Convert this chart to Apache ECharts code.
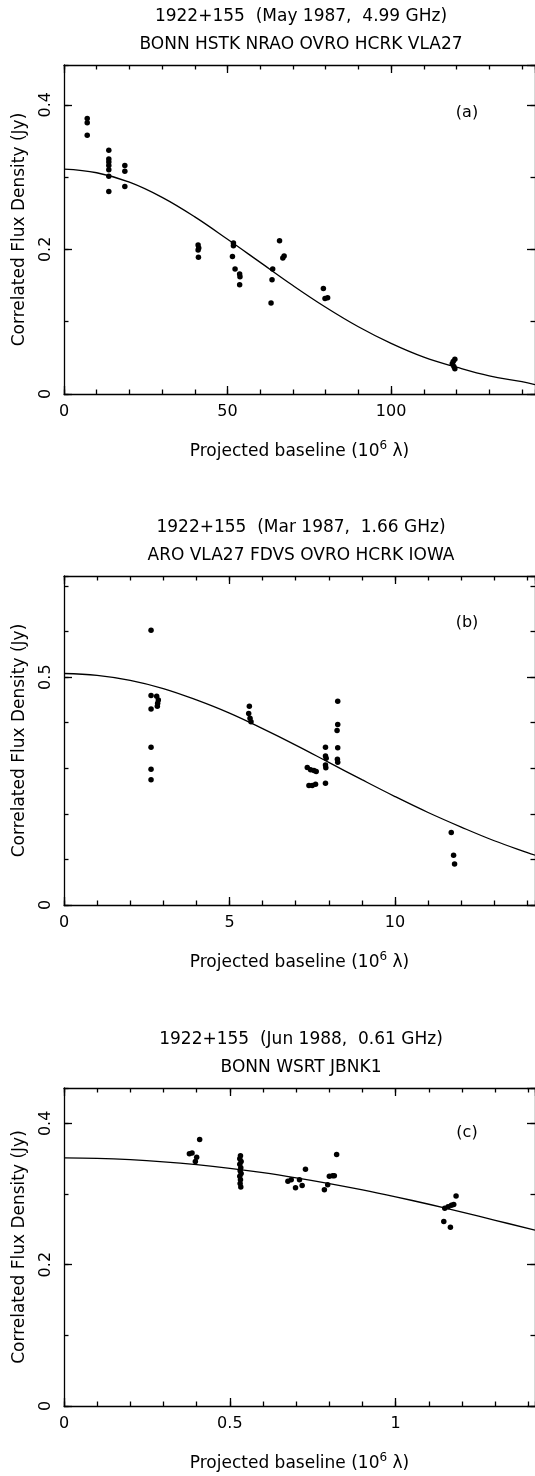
<!DOCTYPE html>
<html>
<head>
<meta charset="utf-8">
<script src="https://cdn.jsdelivr.net/npm/echarts@6/dist/echarts.min.js"></script>
<style>
html,body{margin:0;padding:0;background:#fff;}
#chart{width:535px;height:1476px;}
</style>
</head>
<body>
<div id="chart"></div>
<script>
// ---------------- DATA ----------------
// Panel (a): 1922+155, May 1987, 4.99 GHz
const titleA = '1922+155  (May 1987,  4.99 GHz)';
const stationsA = 'BONN HSTK NRAO OVRO HCRK VLA27';
const aPointX = [7.1, 7.1, 7.1,
  13.7, 13.7, 13.7, 13.7, 13.7, 13.7, 13.7,
  18.6, 18.6, 18.6,
  41.0, 41.2, 41.0, 41.1,
  51.8, 51.8, 51.5, 52.3, 53.7, 53.8, 53.7,
  63.8, 63.6, 63.3,
  65.9, 67.3, 66.9,
  79.3, 79.8, 80.6,
  119.5, 119.0, 118.7, 119.2, 119.5];
const aPointY = [0.381, 0.375, 0.358,
  0.337, 0.325, 0.321, 0.316, 0.310, 0.301, 0.280,
  0.316, 0.308, 0.287,
  0.206, 0.202, 0.199, 0.189,
  0.209, 0.205, 0.190, 0.173, 0.166, 0.162, 0.151,
  0.173, 0.158, 0.126,
  0.212, 0.191, 0.188,
  0.146, 0.132, 0.133,
  0.048, 0.045, 0.042, 0.038, 0.035];
const aFitX = [0, 10, 20, 30, 40, 50, 60, 70, 80, 90, 100, 110, 120, 130, 140, 144];
const aFitY = [0.311, 0.306, 0.293, 0.272, 0.245, 0.214, 0.182, 0.150, 0.120, 0.093, 0.070, 0.051, 0.037, 0.025, 0.017, 0.013];

// Panel (b): 1922+155, Mar 1987, 1.66 GHz
const titleB = '1922+155  (Mar 1987,  1.66 GHz)';
const stationsB = 'ARO VLA27 FDVS OVRO HCRK IOWA';
const bPointX = [2.63, 2.63, 2.63, 2.63, 2.63, 2.63,
  2.80, 2.85, 2.83, 2.82,
  5.60, 5.58, 5.62, 5.65,
  7.35, 7.45, 7.55, 7.62, 7.40, 7.50, 7.60,
  7.90, 7.90, 7.92, 7.90, 7.91, 7.90,
  8.27, 8.27, 8.25, 8.27, 8.26, 8.27,
  11.70, 11.77, 11.80];
const bPointY = [0.603, 0.460, 0.430, 0.346, 0.298, 0.275,
  0.458, 0.450, 0.443, 0.436,
  0.436, 0.420, 0.410, 0.402,
  0.302, 0.297, 0.295, 0.293, 0.262, 0.262, 0.265,
  0.346, 0.327, 0.322, 0.307, 0.301, 0.267,
  0.447, 0.396, 0.383, 0.345, 0.320, 0.313,
  0.159, 0.109, 0.090];
const bFitX = [0, 1, 2, 3, 4, 5, 6, 7, 8, 9, 10, 11, 12, 13, 14, 14.25];
const bFitY = [0.508, 0.504, 0.493, 0.475, 0.450, 0.421, 0.387, 0.351, 0.313, 0.275, 0.238, 0.203, 0.171, 0.141, 0.115, 0.109];

// Panel (c): 1922+155, Jun 1988, 0.61 GHz
const titleC = '1922+155  (Jun 1988,  0.61 GHz)';
const stationsC = 'BONN WSRT JBNK1';
const cPointX = [0.378, 0.386, 0.400, 0.396, 0.409,
  0.532, 0.530, 0.534, 0.530, 0.533, 0.531, 0.534, 0.530, 0.532, 0.531, 0.533,
  0.675, 0.685, 0.698, 0.710, 0.718, 0.728,
  0.785, 0.795, 0.800, 0.810, 0.815, 0.822,
  1.148, 1.158, 1.168, 1.175, 1.145, 1.165, 1.182];
const cPointY = [0.357, 0.358, 0.352, 0.346, 0.377,
  0.354, 0.350, 0.346, 0.342, 0.337, 0.333, 0.329, 0.325, 0.320, 0.315, 0.310,
  0.318, 0.320, 0.309, 0.320, 0.312, 0.335,
  0.306, 0.313, 0.325, 0.326, 0.326, 0.356,
  0.280, 0.282, 0.284, 0.285, 0.261, 0.253, 0.297];
const cFitX = [0, 0.1, 0.2, 0.3, 0.4, 0.5, 0.6, 0.7, 0.8, 0.9, 1.0, 1.1, 1.2, 1.3, 1.42];
const cFitY = [0.3510, 0.3504, 0.3486, 0.3456, 0.3415, 0.3363, 0.3301, 0.3228, 0.3147, 0.3057, 0.2959, 0.2855, 0.2744, 0.2628, 0.2488];

const panelTags = ['(a)', '(b)', '(c)'];
const xAxisTitle = 'Projected baseline (10{sup|6} λ)';
const yAxisTitle = 'Correlated Flux Density (Jy)';

// ---------------- LAYOUT ----------------
const FONT = 'DejaVu Sans';
const INK = '#000';
const layout = [
  {grid:{left:64, top:65, width:474, height:329}, xMax:144, xMaj:50, xMin:10, yMax:0.455, yMaj:0.2, yMin:0.1, tY:[17,45], tagPos:[467,113]},
  {grid:{left:64, top:576, width:474, height:329}, xMax:14.23, xMaj:5, xMin:1, yMax:0.722, yMaj:0.5, yMin:0.1, tY:[528,556], tagPos:[467,623]},
  {grid:{left:64, top:1088, width:474, height:332}, xMax:1.42, xMaj:0.5, xMin:0.1, yMax:0.45, yMaj:0.2, yMin:0.1, tY:[1040,1068], tagPos:[467,1133]}
];
const panelData = [
  {title:titleA, sub:stationsA, px:aPointX, py:aPointY, fx:aFitX, fy:aFitY},
  {title:titleB, sub:stationsB, px:bPointX, py:bPointY, fx:bFitX, fy:bFitY},
  {title:titleC, sub:stationsC, px:cPointX, py:cPointY, fx:cFitX, fy:cFitY}
];

const lineSt = {color:INK, width:1.3};
const grids = [], xAxes = [], yAxes = [], series = [], graphics = [];

layout.forEach((p, g) => {
  grids.push(Object.assign({containLabel:false}, p.grid));
  const xb = {gridIndex:g, type:'value', min:0, max:p.xMax, splitLine:{show:false},
    axisLine:{show:true, onZero:false, lineStyle:lineSt}};
  xAxes.push(Object.assign({}, xb, {position:'bottom', interval:p.xMaj,
    axisTick:{inside:true, length:8, lineStyle:lineSt},
    axisLabel:{show:true, margin:10, color:INK, fontFamily:FONT, fontSize:16, showMaxLabel:false},
    name:xAxisTitle, nameLocation:'middle', nameGap:46,
    nameTextStyle:{color:INK, fontFamily:FONT, fontSize:17, lineHeight:23,
      rich:{sup:{color:INK, fontFamily:FONT, fontSize:12, lineHeight:12, verticalAlign:'top'}}}}));
  xAxes.push(Object.assign({}, xb, {position:'bottom', interval:p.xMin, axisLine:{show:false, onZero:false},
    axisTick:{inside:true, length:4.5, lineStyle:lineSt}, axisLabel:{show:false}}));
  xAxes.push(Object.assign({}, xb, {position:'top', interval:p.xMaj,
    axisTick:{inside:true, length:8, lineStyle:lineSt}, axisLabel:{show:false}}));
  xAxes.push(Object.assign({}, xb, {position:'top', interval:p.xMin, axisLine:{show:false, onZero:false},
    axisTick:{inside:true, length:4.5, lineStyle:lineSt}, axisLabel:{show:false}}));

  const yb = {gridIndex:g, type:'value', min:0, max:p.yMax, splitLine:{show:false},
    axisLine:{show:true, onZero:false, lineStyle:lineSt}};
  yAxes.push(Object.assign({}, yb, {position:'left', interval:p.yMaj,
    axisTick:{inside:true, length:8, lineStyle:lineSt},
    axisLabel:{show:true, rotate:90, margin:10, color:INK, fontFamily:FONT, fontSize:16, showMaxLabel:false},
    name:yAxisTitle, nameLocation:'middle', nameGap:36,
    nameTextStyle:{color:INK, fontFamily:FONT, fontSize:17}}));
  yAxes.push(Object.assign({}, yb, {position:'left', interval:p.yMin, axisLine:{show:false, onZero:false},
    axisTick:{inside:true, length:4.5, lineStyle:lineSt}, axisLabel:{show:false}}));
  yAxes.push(Object.assign({}, yb, {position:'right', interval:p.yMaj,
    axisTick:{inside:true, length:8, lineStyle:lineSt}, axisLabel:{show:false}}));
  yAxes.push(Object.assign({}, yb, {position:'right', interval:p.yMin, axisLine:{show:false, onZero:false},
    axisTick:{inside:true, length:4.5, lineStyle:lineSt}, axisLabel:{show:false}}));

  const d = panelData[g];
  series.push({type:'scatter', xAxisIndex:4*g, yAxisIndex:4*g, symbol:'circle', symbolSize:5.5,
    itemStyle:{color:INK, opacity:1}, data:d.px.map((x,i)=>[x, d.py[i]]), z:3});
  series.push({type:'line', xAxisIndex:4*g, yAxisIndex:4*g, showSymbol:false, smooth:0.4,
    lineStyle:{color:INK, width:1.3}, data:d.fx.map((x,i)=>[x, d.fy[i]]), z:2});

  const cx = p.grid.left + p.grid.width/2;
  graphics.push({type:'text', x:cx, y:p.tY[0], style:{text:d.title, fill:INK, font:'17px "DejaVu Sans"', textAlign:'center', textVerticalAlign:'middle'}});
  graphics.push({type:'text', x:cx, y:p.tY[1], style:{text:d.sub, fill:INK, font:'17px "DejaVu Sans"', textAlign:'center', textVerticalAlign:'middle'}});
  graphics.push({type:'text', x:p.tagPos[0], y:p.tagPos[1], style:{text:panelTags[g], fill:INK, font:'16px "DejaVu Sans"', textAlign:'center', textVerticalAlign:'middle'}});
});

const chart = echarts.init(document.getElementById('chart'), null, {renderer:'canvas'});
chart.setOption({
  animation:false,
  backgroundColor:'#fff',
  grid:grids, xAxis:xAxes, yAxis:yAxes, series:series, graphic:graphics
});
</script>
</body>
</html>
